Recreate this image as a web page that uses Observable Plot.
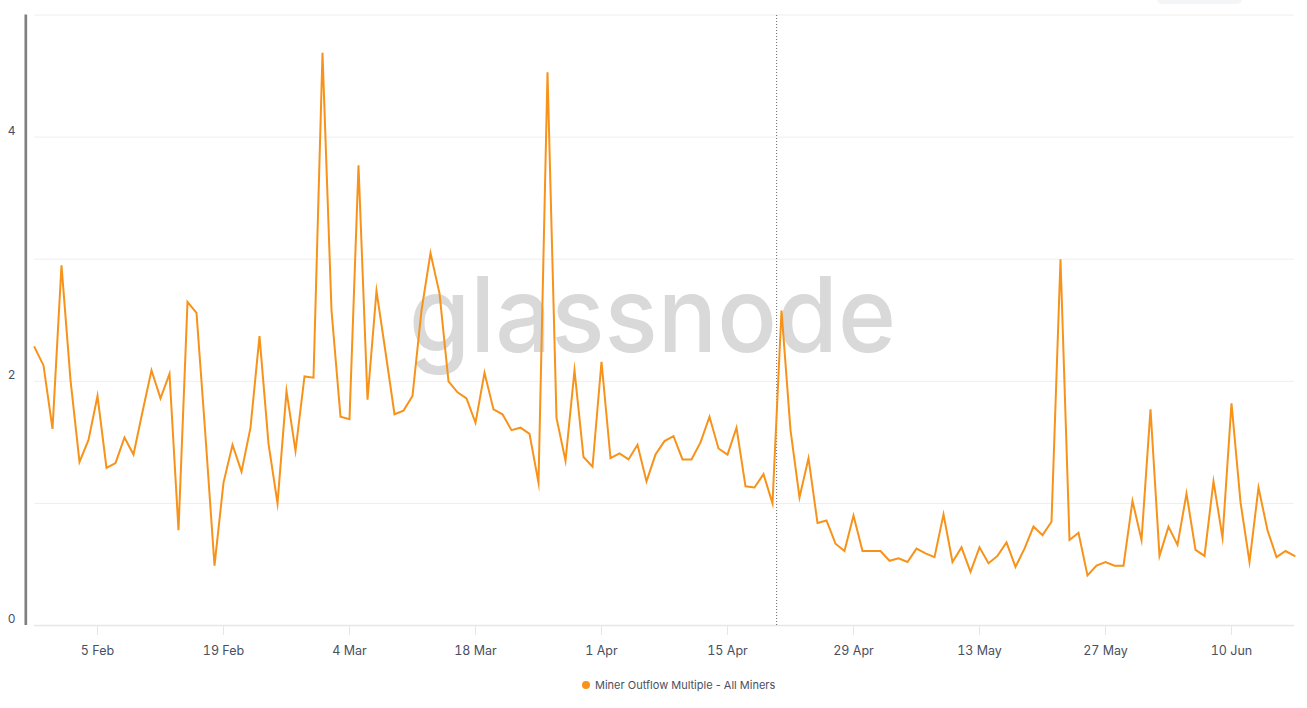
<!DOCTYPE html>
<html>
<head>
<meta charset="utf-8">
<script src="https://cdn.jsdelivr.net/npm/d3@7"></script>
<script src="https://cdn.jsdelivr.net/npm/@observablehq/plot@0.6"></script>
<style>
  html, body { margin: 0; padding: 0; background: #fff; }
  body { font-family: Inter, "Noto Sans", sans-serif; position: relative; width: 1307px; height: 708px; overflow: hidden; }
  #chart { position: absolute; left: 0; top: 0; }
  #topbtn { position: absolute; left: 1157px; top: -10px; width: 85px; height: 14px; background: #f4f5f7; border-radius: 5px; }
  #legend { position: absolute; left: 582px; top: 677px; height: 16px; display: flex; align-items: center; font-size: 11px; color: #4a4f5e; white-space: nowrap; }
  #legend .dot { display: inline-block; width: 8px; height: 8px; border-radius: 50%; background: #f7931a; margin-right: 5px; }
</style>
</head>
<body>
<div id="chart"></div>
<div id="topbtn"></div>
<div id="legend"><span class="dot"></span><span id="legendText"></span></div>
<script>
// ---- data ----
const startDate = "2024-01-29";
const endDate = "2024-06-17";
const seriesName = "Miner Outflow Multiple - All Miners";
const values = [
  2.28, 2.13, 1.61, 2.95, 2.01, 1.34, 1.52, 1.88, 1.29, 1.33,
  1.54, 1.40, 1.75, 2.09, 1.86, 2.06, 0.78, 2.65, 2.56, 1.55,
  0.49, 1.17, 1.48, 1.26, 1.62, 2.37, 1.49, 1.00, 1.92, 1.43,
  2.04, 2.03, 4.69, 2.58, 1.71, 1.69, 3.77, 1.85, 2.74, 2.24,
  1.73, 1.76, 1.88, 2.58, 3.05, 2.72, 2.00, 1.91, 1.86, 1.66,
  2.07, 1.77, 1.73, 1.60, 1.62, 1.57, 1.17, 4.53, 1.70, 1.35,
  2.09, 1.38, 1.30, 2.16, 1.37, 1.41, 1.36, 1.48, 1.18, 1.40,
  1.51, 1.55, 1.36, 1.36, 1.50, 1.71, 1.45, 1.40, 1.62, 1.14,
  1.13, 1.24, 1.00, 2.58, 1.60, 1.05, 1.37, 0.84, 0.86, 0.67,
  0.61, 0.90, 0.61, 0.61, 0.61, 0.53, 0.55, 0.52, 0.63, 0.59,
  0.56, 0.91, 0.52, 0.64, 0.44, 0.64, 0.51, 0.57, 0.68, 0.48,
  0.63, 0.81, 0.74, 0.85, 3.00, 0.70, 0.76, 0.41, 0.49, 0.52,
  0.49, 0.49, 1.02, 0.70, 1.77, 0.57, 0.81, 0.66, 1.08, 0.62,
  0.57, 1.18, 0.72, 1.82, 1.01, 0.52, 1.13, 0.78, 0.56, 0.61,
  0.57
];
const xTickDates = ["2024-02-05", "2024-02-19", "2024-03-04", "2024-03-18", "2024-04-01",
                    "2024-04-15", "2024-04-29", "2024-05-13", "2024-05-27", "2024-06-10"];
const yTickValues = [0, 2, 4];
const yGridValues = [0, 1, 2, 3, 4, 5];
const halvingDate = "2024-04-20T11:00:00Z";
const watermark = "glassnode";

// ---- build table ----
const start = new Date(startDate + "T00:00:00Z");
const rows = values.map((v, i) => ({ date: d3.utcDay.offset(start, i), value: v }));
const xTicks = xTickDates.map(s => new Date(s + "T00:00:00Z"));
const fmt = d3.utcFormat("%-d %b");

const chart = Plot.plot({
  width: 1307,
  height: 668,
  marginLeft: 34,
  marginRight: 13,
  marginTop: 14.5,
  marginBottom: 43,
  style: { fontFamily: "Inter, 'Noto Sans', sans-serif", background: "#fff", overflow: "visible" },
  x: { type: "utc", domain: [new Date(startDate + "T00:00:00Z"), new Date(endDate + "T00:00:00Z")] },
  y: { domain: [0, 5] },
  marks: [
    Plot.gridY(yGridValues, { stroke: "#eeeeee", strokeOpacity: 1 }),
    Plot.ruleY([0], { stroke: "#e6e6e6", strokeWidth: 1.5 }),
    Plot.text([watermark], {
      frameAnchor: "middle", dx: -12, dy: -2,
      fontSize: 105, fontWeight: 500, fill: "#d9d9d9",
      fontFamily: "Inter, sans-serif", className: "wm"
    }),
    Plot.axisX(xTicks, {
      tickSize: 10, tickPadding: 11, tickFormat: fmt,
      stroke: "#e6e6e6", fill: "#4a4f5e", fontSize: 12.5, label: null
    }),
    Plot.axisY(yTickValues, {
      tickSize: 0, tickPadding: 19, dy: -6, tickFormat: d => String(d),
      fill: "#46506a", fontSize: 12, label: null
    }),
    Plot.ruleX([start], { dx: -8.7, y1: 0, y2: 5, stroke: "#808080", strokeWidth: 2.7 }),
    Plot.ruleX([new Date(halvingDate)], { y1: 0, y2: 5, stroke: "#666", strokeWidth: 1, strokeDasharray: "1,2" }),
    Plot.line(rows, { x: "date", y: "value", stroke: "#f7931a", strokeWidth: 2, strokeLinejoin: "miter", strokeMiterlimit: 10 })
  ]
});
document.getElementById("chart").appendChild(chart);
d3.select(chart).selectAll("g.wm text, .wm text")
  .attr("textLength", 487)
  .attr("lengthAdjust", "spacingAndGlyphs");
document.getElementById("legendText").textContent = seriesName;
</script>
</body>
</html>
